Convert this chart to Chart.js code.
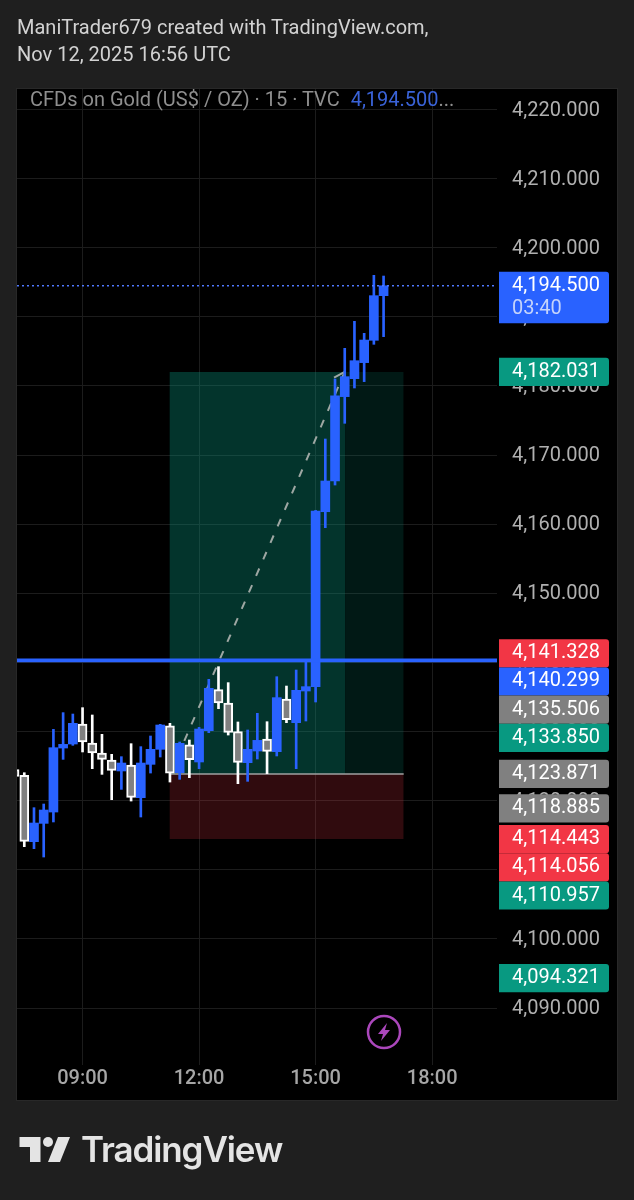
<!DOCTYPE html>
<html><head><meta charset="utf-8">
<script src="https://cdn.jsdelivr.net/npm/chart.js@4/dist/chart.umd.min.js"></script>
<style>
html,body{margin:0;padding:0;background:#1f1f1f;width:634px;height:1200px;overflow:hidden;font-family:Roboto,sans-serif}
#panel{position:absolute;left:17px;top:89px;width:600px;height:1011px;background:#000;box-shadow:0 0 0 1px #282828}
canvas{position:absolute;left:0;top:0}
.t{position:absolute;white-space:nowrap;font-size:20px;line-height:24px}
#h1{left:17px;top:15px;color:#d2d2d2}
#h2{left:17px;top:42px;color:#d2d2d2}
#leg{left:30px;top:87px;color:#8f8f8f}
#leg b{font-weight:400;color:#3a63d8;margin-left:6px}
#brand{left:81px;top:1127px;font:600 35px/44px Inter,sans-serif;color:#e4e4e4;letter-spacing:-1.1px}
svg{position:absolute}
</style></head><body>
<div id="panel"></div>
<canvas id="c" width="634" height="1200"></canvas>
<div class="t" id="h1">ManiTrader679 created with TradingView.com,</div>
<div class="t" id="h2">Nov 12, 2025 16:56 UTC</div>
<div class="t" id="leg">CFDs on Gold (US$ / OZ) · 15 · TVC <b>4,194.500</b>...</div>
<svg style="left:366px;top:1014px" width="36" height="36" viewBox="0 0 36 36"><circle cx="18" cy="18" r="16" fill="none" stroke="#ab47bc" stroke-width="2.5"/><path d="M21 9 L12 20 H17 L15 27 L24 16 H19 Z" fill="#ab47bc"/></svg>
<svg style="left:19px;top:1136px" width="52" height="27" viewBox="0 0 52 27"><path d="M0.5 1 H21.5 V26 H11 V11 H0.5 Z" fill="#e4e4e4"/><circle cx="29" cy="6" r="5" fill="#e4e4e4"/><path d="M39 1 H51 L41 26 H29 Z" fill="#e4e4e4"/></svg>
<div class="t" id="brand">TradingView</div>
<script>
// 15-minute candles; index 0 is the 09:00 bar
const candleIndex = [-7,-6,-5,-4,-3,-2,-1,0,1,2,3,4,5,6,7,8,9,10,11,12,13,14,15,16,17,18,19,20,21,22,23,24,25,26,27,28,29,30,31];
const opens  = [4124.5,4123.67,4114.07,4116.72,4118.36,4127.62,4128.2,4131.1,4128.35,4126.9,4125.89,4124.3,4125.16,4120.44,4125.26,4127.43,4130.85,4124.05,4128.1,4125.6,4130.13,4136.06,4134.13,4129.99,4125.5,4127.19,4128.93,4127.09,4134.71,4131.29,4135.87,4136.5,4161.81,4166.25,4178.46,4181.06,4183.38,4186.61,4193.07];
const closes = [4123.5,4114.12,4116.77,4118.65,4127.67,4128.15,4131.19,4128.49,4126.9,4125.98,4124.39,4125.45,4120.49,4125.45,4127.43,4130.95,4124.0,4128.3,4125.94,4130.37,4136.26,4134.13,4129.89,4125.55,4127.43,4128.73,4127.14,4134.91,4131.72,4135.97,4136.5,4161.91,4166.25,4178.59,4181.35,4183.66,4186.65,4193.07,4194.5];
const highs  = [4124.6,4124.05,4118.99,4119.52,4130.32,4132.74,4132.54,4133.46,4132.4,4129.6,4126.71,4126.37,4128.25,4127.82,4129.36,4131.05,4131.19,4128.49,4128.78,4130.61,4137.56,4139.39,4137.08,4131.39,4130.23,4132.64,4131.43,4137.94,4136.59,4138.91,4140.1,4162.0,4172.33,4181.01,4185.45,4189.36,4187.62,4196.01,4195.91];
const lows   = [4123.4,4113.35,4113.06,4111.85,4116.92,4125.98,4128.01,4127.05,4124.63,4123.81,4120.15,4121.64,4119.95,4117.64,4124.0,4126.32,4122.7,4123.09,4123.33,4124.63,4129.84,4133.31,4129.5,4122.46,4122.8,4126.03,4123.91,4126.47,4131.29,4124.63,4131.53,4134.28,4159.5,4165.67,4174.6,4179.71,4180.63,4186.03,4187.14];

const lastPrice = 4194.5;
const countdown = "03:40";
const horizontalLevel = 4140.299;
const tpLevel = 4182.031;
const entryLevel = 4123.871;
const slLevel = 4114.443;
const positionStart = 8.95, positionMid = 27.03, positionEnd = 33.07;
const trendX = [9, 27];
const trendY = [4123.871, 4182.031];
const arrowX = [25.9, 27];
const arrowY = [4181.2, 4182.031];

const priceTicks = [4090,4100,4110,4120,4130,4140,4150,4160,4170,4180,4190,4200,4210,4220];
const timeTickValues = [0,12,24,36];
const timeTickLabels = ["09:00","12:00","15:00","18:00"];
const labelValues = [4182.031,4141.328,4140.299,4135.506,4133.850,4123.871,4118.885,4114.443,4114.056,4110.957,4094.321];
const labelKinds  = ["green","red","blue","grey","green","grey","grey","red","red","green","green"];

const xMin = -6.75, xMax = 42.68, yMin = 4081.76, yMax = 4222.97;
const BLUE = "#2962ff", WHITE = "#ffffff", GREY = "#808080";
const kindColor = {green:"#089981",red:"#f23645",blue:"#2962ff",grey:"#808080"};
const fmt = v => v.toLocaleString("en-US",{minimumFractionDigits:3,maximumFractionDigits:3});
const isUp = candleIndex.map((_,i)=>closes[i]>=opens[i]);
const wickData = candleIndex.map((x,i)=>({x,y:[lows[i],highs[i]]}));
const bodyData = candleIndex.map((x,i)=>({x,y:[Math.min(opens[i],closes[i]),Math.max(opens[i],closes[i])]}));
const zone = (a,b,y,base,color,order)=>({type:"line",data:[{x:a,y},{x:b,y}],fill:{value:base},backgroundColor:color,borderWidth:0,pointRadius:0,order});
const hline = (y,color,width,dash,order)=>({type:"line",data:[{x:xMin,y},{x:xMax,y}],borderColor:color,borderWidth:width,borderDash:dash,pointRadius:0,fill:false,order});

const priceLabels = {
  id:"priceLabels",
  afterDraw(chart){
    const c = chart.ctx, s = chart.scales.y, H = 28.2, L = 499, W = 110;
    c.save();
    c.font = "400 20px Roboto"; c.textAlign = "left"; c.textBaseline = "middle";
    // last price box with countdown
    const yl = s.getPixelForValue(lastPrice);
    c.fillStyle = BLUE; c.beginPath(); c.roundRect(L,yl-14,W,51.5,[0,3,3,0]); c.fill();
    c.fillStyle = "#fff"; c.fillText(fmt(lastPrice),512,yl);
    c.fillStyle = "#c4d3fb"; c.fillText(countdown,512,yl+23);
    // stacked labels: each one is pushed down if it would overlap the previous
    let prev = -Infinity;
    labelValues.forEach((v,i)=>{
      const cy = Math.max(s.getPixelForValue(v), prev+H); prev = cy;
      c.fillStyle = kindColor[labelKinds[i]];
      c.beginPath(); c.roundRect(L,cy-H/2,W,H,[0,3,3,0]); c.fill();
      c.fillStyle = "#fff"; c.fillText(fmt(v),512,cy);
    });
    c.restore();
  }
};

new Chart(document.getElementById("c"),{
  type:"bar",
  data:{datasets:[
    hline(horizontalLevel,BLUE,3.6,[],1),
    hline(lastPrice,"#4f78ff",1.6,[2,3],1),
    {label:"body",data:bodyData,grouped:false,barThickness:9,order:2,borderSkipped:false,
     backgroundColor:isUp.map(u=>u?BLUE:GREY),borderColor:isUp.map(u=>u?BLUE:WHITE),borderWidth:isUp.map(u=>u?0:2)},
    {label:"wick",data:wickData,grouped:false,barThickness:2,order:3,borderWidth:0,
     backgroundColor:isUp.map(u=>u?BLUE:WHITE)},
    {type:"line",data:trendX.map((x,i)=>({x,y:trendY[i]})),borderColor:"#9ea7a3",borderWidth:2,borderDash:[8,10],pointRadius:0,fill:false,order:4},
    {type:"line",data:arrowX.map((x,i)=>({x,y:arrowY[i]})),borderColor:"#9ea7a3",borderWidth:2,pointRadius:0,fill:false,order:4},
    {type:"line",data:[{x:positionStart,y:entryLevel},{x:positionEnd,y:entryLevel}],borderColor:"#a0a0a0",borderWidth:1.6,pointRadius:0,fill:false,order:5},
    zone(positionStart,positionMid,tpLevel,entryLevel,"rgba(8,153,129,0.34)",6),
    zone(positionMid,positionEnd,tpLevel,entryLevel,"rgba(8,153,129,0.16)",7),
    zone(positionStart,positionEnd,slLevel,entryLevel,"rgba(242,54,69,0.2)",8)
  ]},
  options:{
    responsive:false,animation:false,devicePixelRatio:1,
    layout:{padding:{left:17,top:89,right:17,bottom:100}},
    plugins:{legend:{display:false},tooltip:{enabled:false},title:{display:false}},
    scales:{
      x:{type:"linear",min:xMin,max:xMax,offset:false,
        grid:{color:"#1c1c1c",offset:false,drawTicks:false},border:{display:false},
        afterBuildTicks(a){a.ticks=timeTickValues.map(value=>({value}));},
        afterFit(a){a.height=35;},
        ticks:{autoSkip:false,maxRotation:0,padding:2,color:"#a6a6a6",font:{family:"Roboto",size:20,weight:"500"},
          callback:v=>timeTickLabels[timeTickValues.indexOf(v)]}},
      y:{type:"linear",position:"right",min:yMin,max:yMax,
        grid:{color:"#1c1c1c",drawTicks:false},border:{display:false},
        afterBuildTicks(a){a.ticks=priceTicks.map(value=>({value}));},
        afterFit(a){a.width=120;},
        ticks:{autoSkip:false,padding:15,labelOffset:1,color:"#b0b0b0",font:{family:"Roboto",size:20},callback:v=>fmt(v)}}
    }
  },
  plugins:[priceLabels]
});
</script>
</body></html>
